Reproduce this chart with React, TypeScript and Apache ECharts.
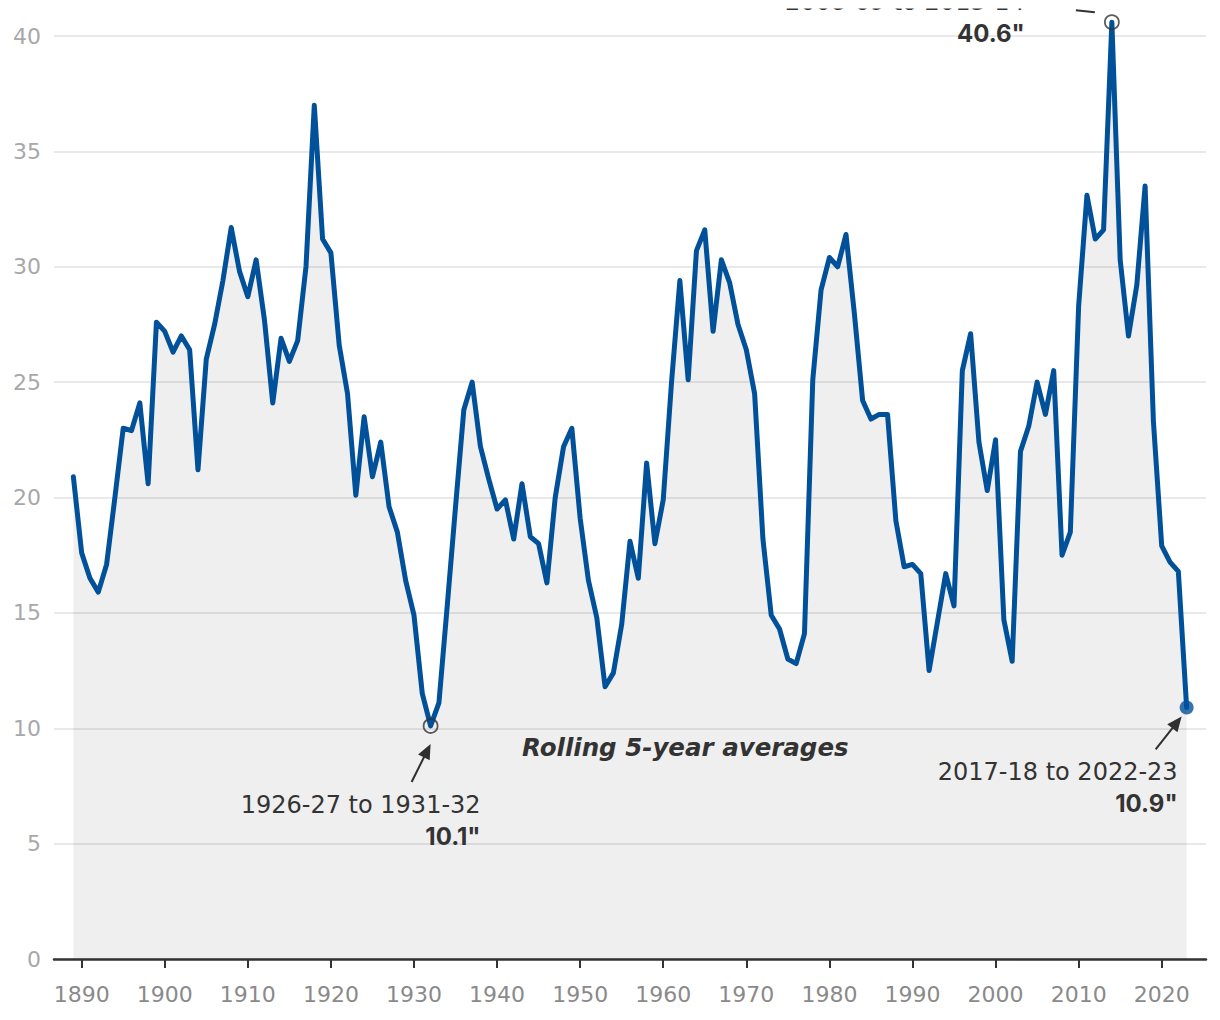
import React, { useEffect, useRef } from "react";
import * as echarts from "echarts";

const startYear = 1889;
const values: number[] = [
  20.9, 17.6, 16.5, 15.9, 17.1, 20.0, 23.0, 22.9, 24.1, 20.6, 27.6,
  27.2, 26.3, 27.0, 26.4, 21.2, 26.0, 27.5, 29.4, 31.7, 29.8,
  28.7, 30.3, 27.7, 24.1, 26.9, 25.9, 26.8, 30.0, 37.0, 31.2,
  30.6, 26.6, 24.5, 20.1, 23.5, 20.9, 22.4, 19.6, 18.5, 16.4,
  14.9, 11.5, 10.1, 11.1, 15.3, 19.6, 23.8, 25.0, 22.2, 20.8,
  19.5, 19.9, 18.2, 20.6, 18.3, 18.0, 16.3, 20.0, 22.2, 23.0,
  19.1, 16.4, 14.8, 11.8, 12.4, 14.5, 18.1, 16.5, 21.5, 18.0,
  19.9, 25.0, 29.4, 25.1, 30.7, 31.6, 27.2, 30.3, 29.3, 27.5,
  26.4, 24.5, 18.2, 14.9, 14.3, 13.0, 12.8, 14.1, 25.1, 29.0,
  30.4, 30.0, 31.4, 28.0, 24.2, 23.4, 23.6, 23.6, 19.0, 17.0,
  17.1, 16.7, 12.5, 14.6, 16.7, 15.3, 25.5, 27.1, 22.4, 20.3,
  22.5, 14.7, 12.9, 22.0, 23.1, 25.0, 23.6, 25.5, 17.5, 18.5,
  28.3, 33.1, 31.2, 31.6, 40.6, 30.3, 27.0, 29.2, 33.5, 23.3,
  17.9, 17.2, 16.8, 10.9,
];
const years: number[] = values.map((_, i) => startYear + i);

const xTickLabels: number[] = [1890, 1900, 1910, 1920, 1930, 1940, 1950, 1960, 1970, 1980, 1990, 2000, 2010, 2020];

const lowYear = 1932;
const lowRange = "1926-27 to 1931-32";
const lowLabel = '10.1"';
const peakYear = 2014;
const peakRange = "2008-09 to 2013-14";
const peakLabel = '40.6"';
const lastYear = 2023;
const lastRange = "2017-18 to 2022-23";
const lastLabel = '10.9"';
const seriesTitle = "Rolling 5-year averages";

const valueOf = (y: number) => values[years.indexOf(y)];

const LINE = "#00509a";
const INK = "#333333";
const FONT = "'DejaVu Sans', 'Noto Sans', sans-serif";
const BOLDFONT = "Inter, 'Noto Sans', sans-serif";

function arrow(tail: number[], tip: number[]) {
  const dx = tip[0] - tail[0];
  const dy = tip[1] - tail[1];
  const len = Math.sqrt(dx * dx + dy * dy);
  const ux = dx / len, uy = dy / len;
  const hl = 15, hw = 6.5;
  const bx = tip[0] - ux * hl, by = tip[1] - uy * hl;
  return [
    {
      type: "line",
      shape: { x1: tail[0], y1: tail[1], x2: bx + ux * 2, y2: by + uy * 2 },
      style: { stroke: INK, lineWidth: 2 },
      silent: true,
    },
    {
      type: "polygon",
      shape: {
        points: [
          [tip[0], tip[1]],
          [bx - uy * hw, by + ux * hw],
          [bx + uy * hw, by - ux * hw],
        ],
      },
      style: { fill: INK },
      silent: true,
    },
  ];
}

function txt(x: number, y: number, text: string, opts: any = {}) {
  return {
    type: "text",
    x,
    y,
    silent: true,
    z: opts.z || 10,
    style: {
      text,
      fill: INK,
      font: opts.font || `400 24px ${FONT}`,
      textAlign: opts.align || "right",
      textVerticalAlign: "middle",
    },
  };
}

export default function App() {
  const ref = useRef<HTMLDivElement>(null);
  useEffect(() => {
    if (!ref.current) return;
    const chart = echarts.init(ref.current, null, { renderer: "svg" });
    const option: any = {
      animation: false,
      grid: { left: 54, right: 14, top: 36, bottom: 61, containLabel: false },
      xAxis: {
        type: "value",
        min: 1886.67,
        max: 2025.33,
        axisLine: { show: true, onZero: false, lineStyle: { color: INK, width: 2.5 } },
        axisTick: { show: true, customValues: xTickLabels, length: 9, lineStyle: { color: INK, width: 2 } },
        axisLabel: {
          customValues: xTickLabels,
          color: "#8a8a8a",
          fontSize: 22,
          fontFamily: FONT,
          margin: 24,
          formatter: (v: number) => String(v),
        },
        splitLine: { show: false },
      },
      yAxis: {
        type: "value",
        min: 0,
        max: 40,
        interval: 5,
        axisLine: { show: false },
        axisTick: { show: false },
        axisLabel: { color: "#a8a8a8", fontSize: 22, fontFamily: FONT, margin: 13 },
        splitLine: { lineStyle: { color: "#e2e2e2", width: 1.5 } },
      },
      series: [
        {
          type: "line",
          data: years.map((y, i) => [y, values[i]]),
          symbol: "none",
          clip: false,
          lineStyle: { color: LINE, width: 5, join: "round", cap: "round" },
          areaStyle: { color: "rgba(0,0,0,0.064)", opacity: 1, origin: 0 },
          z: 3,
        },
        {
          type: "scatter",
          data: [
            [lowYear, valueOf(lowYear)],
            [peakYear, valueOf(peakYear)],
          ],
          symbol: "circle",
          symbolSize: 14,
          clip: false,
          itemStyle: { color: "rgba(0,0,0,0)", borderColor: INK, borderWidth: 1.8 },
          z: 5,
        },
        {
          type: "scatter",
          data: [[lastYear, valueOf(lastYear)]],
          symbol: "circle",
          symbolSize: 14,
          clip: false,
          itemStyle: { color: LINE },
          z: 5,
        },
      ],
    };
    chart.setOption(option);

    const low = chart.convertToPixel({ gridIndex: 0 }, [lowYear, valueOf(lowYear)]) as number[];
    const peak = chart.convertToPixel({ gridIndex: 0 }, [peakYear, valueOf(peakYear)]) as number[];
    const last = chart.convertToPixel({ gridIndex: 0 }, [lastYear, valueOf(lastYear)]) as number[];

    const bold = `700 24px ${BOLDFONT}`;
    const elements: any[] = [
      ...arrow([low[0] - 19, low[1] + 56], [low[0], low[1] + 18]),
      txt(low[0] + 50, low[1] + 79, lowRange),
      txt(low[0] + 50, low[1] + 111, lowLabel, { font: bold }),
      ...arrow([last[0] - 31, last[1] + 42], [last[0] - 5, last[1] + 9]),
      txt(last[0] - 9, last[1] + 65, lastRange),
      txt(last[0] - 9, last[1] + 96, lastLabel, { font: bold }),
      txt(peak[0] - 87, peak[1] - 20, peakRange, { z: 8 }),
      txt(peak[0] - 87, peak[1] + 11, peakLabel, { font: bold }),
      {
        type: "line",
        shape: { x1: peak[0] - 36, y1: peak[1] - 12, x2: peak[0] - 17, y2: peak[1] - 10 },
        style: { stroke: INK, lineWidth: 2 },
        silent: true,
        z: 8,
      },
      {
        type: "rect",
        shape: { x: 0, y: 0, width: 1220, height: 8.5 },
        style: { fill: "#ffffff" },
        silent: true,
        z: 9,
      },
      txt(522, 747, seriesTitle, { font: `italic 700 24.5px ${FONT}`, align: "left" }),
    ];
    chart.setOption({ graphic: { elements } });

    return () => chart.dispose();
  }, []);
  return (
    <div
      ref={ref}
      style={{ position: "absolute", left: 0, top: 0, width: 1220, height: 1020, background: "#fff" }}
    />
  );
}
